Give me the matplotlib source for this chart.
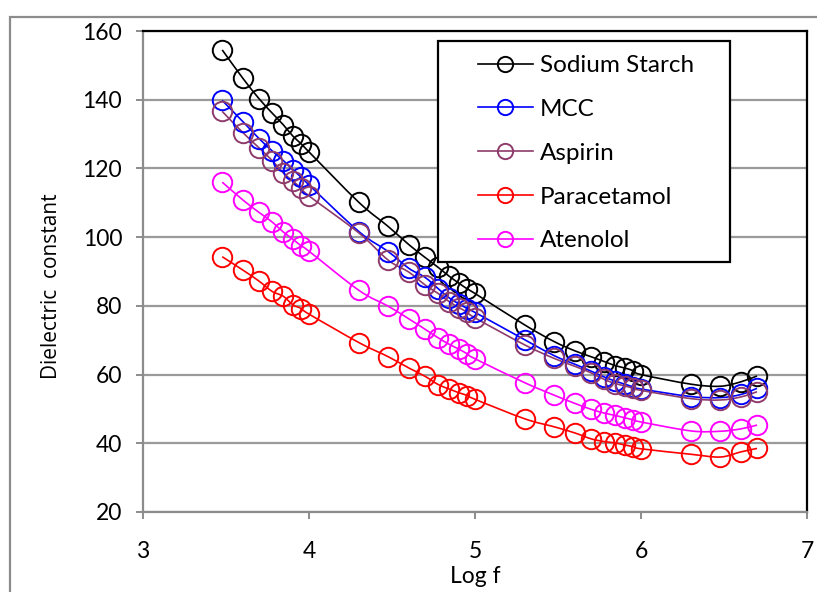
import numpy as np
import matplotlib
matplotlib.use("Agg")
import matplotlib.pyplot as plt
from matplotlib.path import Path
from matplotlib.patches import PathPatch, Rectangle
from matplotlib.lines import Line2D

# frequencies (Hz) -> Log f on the x axis
freq_hz = [3e3, 4e3, 5e3, 6e3, 7e3, 8e3, 9e3, 1e4,
           2e4, 3e4, 4e4, 5e4, 6e4, 7e4, 8e4, 9e4, 1e5,
           2e5, 3e5, 4e5, 5e5, 6e5, 7e5, 8e5, 9e5, 1e6,
           2e6, 3e6, 4e6, 5e6]

sodium_starch = [154.5, 146.2, 140.3, 136.1, 132.7, 129.4, 127.1, 124.8,
                 110.1, 103.1, 97.8, 94.1, 91.2, 88.6, 86.6, 84.9, 83.6,
                 74.4, 69.6, 66.9, 65.2, 63.8, 62.6, 61.9, 61.1, 60.0,
                 57.2, 56.6, 57.9, 59.6]
mcc = [139.8, 133.6, 128.7, 125.1, 122.3, 119.6, 117.4, 115.2,
       101.6, 95.8, 90.9, 88.3, 85.0, 82.3, 80.6, 79.2, 78.1,
       70.1, 65.5, 63.0, 61.0, 59.3, 58.1, 57.2, 56.4, 55.8,
       53.6, 53.3, 54.2, 56.0]
aspirin = [136.6, 130.4, 126.0, 122.3, 118.7, 116.3, 114.2, 112.0,
           101.2, 93.3, 89.8, 86.1, 83.6, 81.2, 79.5, 78.1, 76.5,
           68.6, 64.7, 62.4, 60.5, 58.6, 57.4, 56.7, 56.0, 55.4,
           53.0, 52.6, 53.5, 55.0]
paracetamol = [94.3, 90.4, 87.2, 84.2, 82.8, 80.3, 79.2, 77.6,
               69.3, 65.2, 61.9, 59.5, 57.1, 55.8, 54.7, 53.9, 52.8,
               47.1, 44.8, 43.0, 41.3, 40.5, 40.1, 39.5, 39.0, 38.4,
               36.8, 36.0, 37.5, 38.5]
atenolol = [116.0, 110.8, 107.2, 104.4, 101.5, 99.4, 97.4, 95.9,
            84.5, 79.9, 76.2, 73.2, 70.7, 68.8, 67.4, 66.0, 64.6,
            57.6, 54.0, 51.6, 49.9, 48.8, 48.1, 47.4, 46.8, 46.2,
            43.6, 43.5, 44.2, 45.3]

series_names = ["Sodium Starch", "MCC", "Aspirin", "Paracetamol", "Atenolol"]
series_values = [sodium_starch, mcc, aspirin, paracetamol, atenolol]
series_colors = ["#000000", "#0000ff", "#8e3b6b", "#ff0000", "#ff00ff"]

x_ticks = [3, 4, 5, 6, 7]
y_ticks = [20, 40, 60, 80, 100, 120, 140, 160]

plt.rcParams['font.family'] = ['Lato', 'DejaVu Sans']


def smooth_path(x, y):
    # excel-like smoothed line: catmull-rom segments as cubic beziers
    pts = np.column_stack([np.asarray(x), np.asarray(y)])
    verts = [pts[0]]
    codes = [Path.MOVETO]
    n = len(pts)
    for i in range(n - 1):
        p0 = pts[max(i - 1, 0)]
        p1 = pts[i]
        p2 = pts[i + 1]
        p3 = pts[min(i + 2, n - 1)]
        verts += [p1 + (p2 - p0) / 6.0, p2 - (p3 - p1) / 6.0, p2]
        codes += [Path.CURVE4] * 3
    return Path(verts, codes)


W, H = 817, 592
fig = plt.figure(figsize=(W / 100, H / 100), dpi=100)
ax = fig.add_axes([143 / W, 1 - 512 / H, 664 / W, 481 / H])

log_f = np.log10(freq_hz)
for name, vals, col in zip(series_names, series_values, series_colors):
    ax.add_patch(PathPatch(smooth_path(log_f, vals), facecolor='none',
                           edgecolor=col, lw=1.2, zorder=3))
    ax.plot(log_f, vals, linestyle='none', marker='o', ms=14, mfc='none',
            mec=col, mew=1.4, zorder=4)

ax.set_xlim(3, 7)
ax.set_ylim(20, 160)
ax.set_xticks(x_ticks)
ax.set_yticks(y_ticks)
ax.grid(axis='y', color='#9a9a9a', lw=1.6, zorder=0)
ax.set_axisbelow(True)

for side in ['left', 'bottom']:
    ax.spines[side].set_color('#8c8c8c')
    ax.spines[side].set_linewidth(1.6)
for side in ['top', 'right']:
    ax.spines[side].set_color('black')
    ax.spines[side].set_linewidth(1.6)

ax.tick_params(axis='both', direction='out', length=5, width=1.4,
               color='#8c8c8c', labelsize=16.5)
ax.tick_params(axis='x', pad=16)
ax.tick_params(axis='y', pad=10)

ax.set_xlabel("Log f", fontsize=16.5, va='top')
ax.xaxis.set_label_coords(0.5, (512 - 566) / 481)
ax.set_ylabel("Dielectric  constant", fontsize=15,
              family=['Open Sans', 'DejaVu Sans'])
ax.yaxis.set_label_coords((62 - 143) / 664, (512 - 286) / 481)

# legend box
box = Rectangle(((438 - 143) / 664, (512 - 262) / 481), 292 / 664, 221 / 481,
                transform=ax.transAxes, facecolor='white', edgecolor='black',
                lw=1.6, zorder=5)
ax.add_patch(box)

handles = [Line2D([], [], color=c, lw=1.2, marker='o', ms=11, mfc='none',
                  mec=c, mew=1.4) for c in series_colors]
leg = ax.legend(handles, series_names, loc='upper left',
                bbox_to_anchor=((478 - 143) / 664, (512 - 55) / 481),
                frameon=False, fontsize=17.5, handlelength=2.26,
                handletextpad=0.29, labelspacing=0.94, borderpad=0,
                borderaxespad=0)
leg.set_zorder(6)

# outer chart border
fig.patches.append(Rectangle((10 / W, -0.05), 1.2, 1 - 17 / H + 0.05,
                             transform=fig.transFigure, fill=False,
                             edgecolor='#8c8c8c', lw=1.6))

fig.savefig("out.png", dpi=100)
